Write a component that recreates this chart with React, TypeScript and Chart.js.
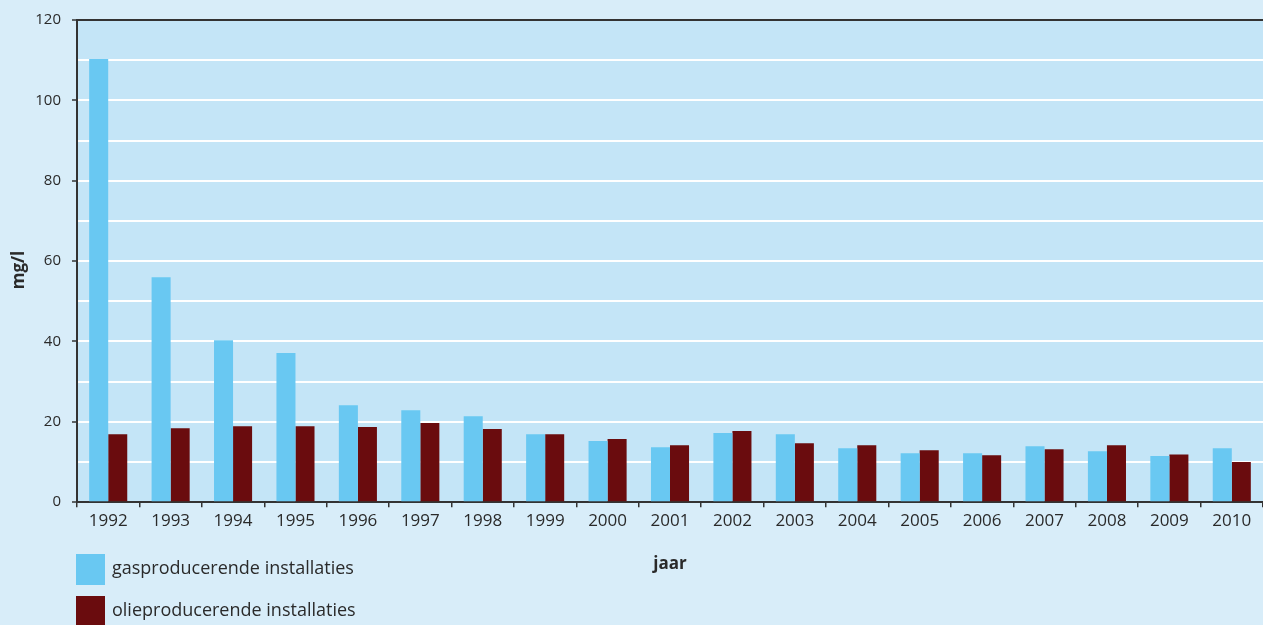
import React, { useEffect, useRef } from "react";
import { Chart, registerables } from "chart.js";

Chart.register(...registerables);

const years = ["1992","1993","1994","1995","1996","1997","1998","1999","2000","2001","2002","2003","2004","2005","2006","2007","2008","2009","2010"];
const gasValues = [110.3, 56.0, 40.3, 37.1, 24.1, 22.9, 21.4, 16.9, 15.2, 13.7, 17.2, 16.9, 13.4, 12.2, 12.2, 13.9, 12.7, 11.5, 13.4];
const oilValues = [16.9, 18.4, 18.9, 18.9, 18.7, 19.7, 18.2, 16.9, 15.7, 14.2, 17.7, 14.7, 14.2, 12.9, 11.7, 13.2, 14.2, 11.9, 10.0];
const seriesNames = ["gasproducerende installaties", "olieproducerende installaties"];
const seriesColors = ["#69c8f2", "#6a0c0e"];
const yAxisTitle = "mg/l";
const xAxisTitle = "jaar";

const FONT = "'Open Sans', sans-serif";
const TEXT = "#2a2a2a";
const AXIS = "#333333";

const bgPlugin = {
  id: "bgPlugin",
  beforeDraw(chart: any) {
    const { ctx, chartArea } = chart;
    ctx.save();
    ctx.fillStyle = "#d8edf9";
    ctx.fillRect(0, 0, chart.width, chart.height);
    ctx.fillStyle = "#c4e5f7";
    ctx.fillRect(chartArea.left, chartArea.top, chartArea.right - chartArea.left, chartArea.bottom - chartArea.top);
    ctx.restore();
  },
};

const legendPlugin = {
  id: "customLegend",
  afterDraw(chart: any) {
    const { ctx } = chart;
    ctx.save();
    // y axis title
    ctx.translate(19, 270);
    ctx.rotate(-Math.PI / 2);
    ctx.fillStyle = TEXT;
    ctx.font = `bold 17px ${FONT}`;
    ctx.textAlign = "center";
    ctx.textBaseline = "middle";
    ctx.fillText(yAxisTitle, 0, 0);
    ctx.restore();

    ctx.save();
    chart.data.datasets.forEach((ds: any, i: number) => {
      const y = 554 + i * 42;
      ctx.fillStyle = ds.backgroundColor;
      ctx.fillRect(76, y, 29, 31);
      ctx.fillStyle = TEXT;
      ctx.font = `18px ${FONT}`;
      ctx.textBaseline = "middle";
      ctx.textAlign = "left";
      ctx.fillText(ds.label, 112, y + 15);
    });
    ctx.restore();
  },
};

export default function App() {
  const ref = useRef<HTMLCanvasElement>(null);
  useEffect(() => {
    document.body.style.margin = "0";
    const chart = new Chart(ref.current as HTMLCanvasElement, {
      type: "bar",
      data: {
        labels: years,
        datasets: [
          { label: seriesNames[0], data: gasValues, backgroundColor: seriesColors[0], categoryPercentage: 0.61, barPercentage: 1.0 },
          { label: seriesNames[1], data: oilValues, backgroundColor: seriesColors[1], categoryPercentage: 0.61, barPercentage: 1.0 },
        ],
      },
      options: {
        responsive: false,
        animation: false,
        layout: { padding: { top: 20, right: 0, bottom: 48, left: 0 } },
        plugins: { legend: { display: false }, tooltip: { enabled: false } },
        scales: {
          x: {
            offset: true,
            grid: { display: true, drawOnChartArea: false, drawTicks: true, tickLength: 5, color: AXIS, lineWidth: 1.5, offset: true },
            border: { display: true, color: AXIS, width: 2 },
            ticks: { color: TEXT, font: { family: FONT, size: 17 }, padding: 4, maxRotation: 0, autoSkip: false },
            title: { display: true, text: xAxisTitle, color: TEXT, font: { family: FONT, size: 17, weight: "bold" }, padding: { top: 18, bottom: 3 } },
          },
          y: {
            min: 0,
            max: 120,
            afterFit(scale: any) { scale.width = 77; },
            grid: {
              drawTicks: true,
              tickLength: 5,
              color: (c: any) => (c.tick && c.tick.value === 120 ? AXIS : "#ffffff"),
              lineWidth: 2,
              tickColor: (c: any) => (c.tick && c.tick.value % 20 === 0 ? AXIS : "rgba(0,0,0,0)"),
              tickWidth: 1.5,
            },
            border: { display: true, color: AXIS, width: 2 },
            ticks: {
              stepSize: 10,
              color: TEXT,
              font: { family: FONT, size: 15 },
              padding: 11,
              callback: (v: any) => (Number(v) % 20 === 0 ? String(v) : ""),
            },
            title: { display: false },
          },
        },
      },
      plugins: [bgPlugin, legendPlugin],
    } as any);
    return () => chart.destroy();
  }, []);
  return <canvas ref={ref} width={1263} height={625} style={{ display: "block" }} />;
}
